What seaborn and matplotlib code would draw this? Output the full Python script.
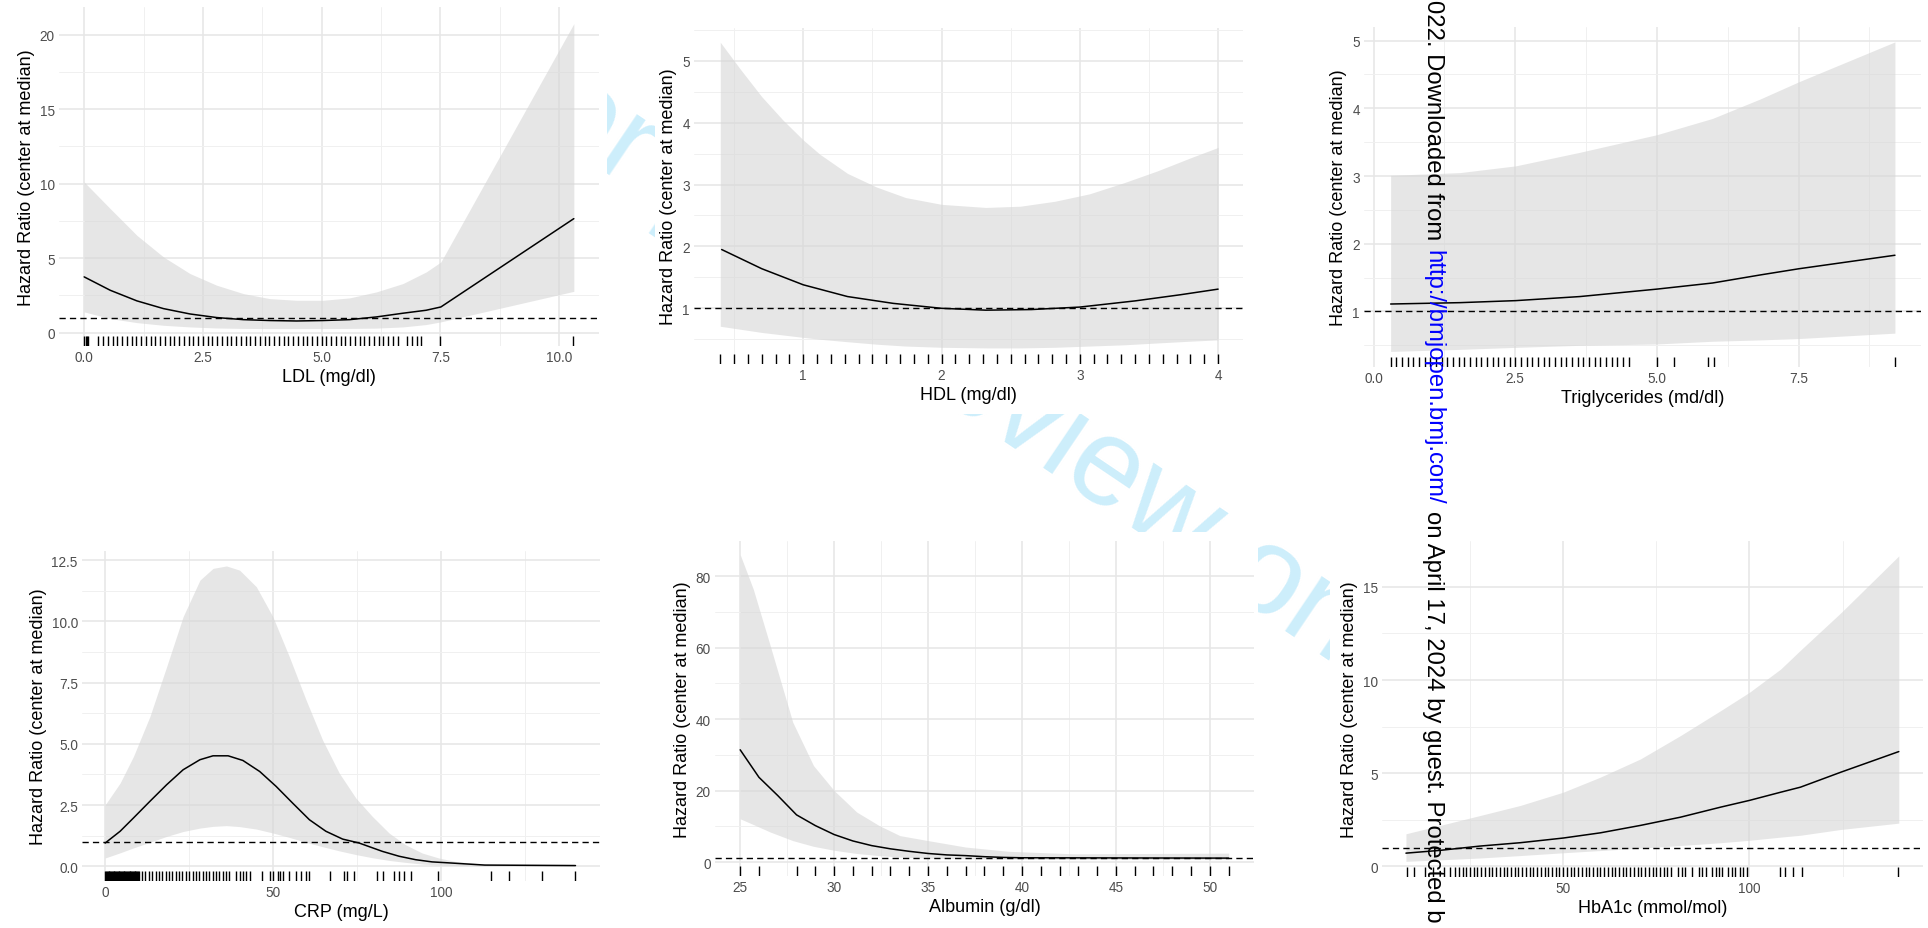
import numpy as np
import pandas as pd
import matplotlib.pyplot as plt
from matplotlib.patches import Rectangle
import seaborn as sns

W, H = 1928, 929

# ---------------------------------------------------------
# Values read off the picture: HR curve, 95% band, rug of observations
# ---------------------------------------------------------
ldl_x = [0.0, 0.55, 1.11, 1.67, 2.23, 2.79, 3.35, 3.91, 4.47, 5.03, 5.59,
         6.15, 6.71, 7.2, 7.51, 10.31]
ldl_hr = [3.74, 2.84, 2.13, 1.61, 1.25, 1.01, 0.87, 0.81, 0.78, 0.81, 0.87,
          1.05, 1.30, 1.50, 1.72, 7.65]
ldl_hi = [10.11, 8.32, 6.53, 5.08, 3.96, 3.18, 2.62, 2.28, 2.17, 2.17, 2.33,
          2.73, 3.29, 4.07, 4.74, 20.74]
ldl_lo = [1.39, 0.94, 0.67, 0.49, 0.38, 0.31, 0.28, 0.27, 0.27, 0.27, 0.28,
          0.30, 0.38, 0.54, 0.72, 2.77]
ldl_rug = [0.0, 0.03, 0.06, 0.09,
           0.3, 0.4, 0.5, 0.6, 0.7, 0.8, 0.9, 1.0, 1.1, 1.2, 1.3, 1.4, 1.5, 1.6,
           1.7, 1.8, 1.9, 2.0, 2.1, 2.2, 2.3, 2.4, 2.5, 2.6, 2.7, 2.8, 2.9, 3.0,
           3.1, 3.2, 3.3, 3.4, 3.5, 3.6, 3.7, 3.8, 3.9, 4.0, 4.1, 4.2, 4.3, 4.4,
           4.5, 4.6, 4.7, 4.8, 4.9, 5.0, 5.1, 5.2, 5.3, 5.4, 5.5, 5.6, 5.7, 5.8,
           5.9, 6.0, 6.1, 6.2, 6.3, 6.4, 6.5, 6.6,
           6.8, 6.9, 7.0, 7.1, 7.5, 10.3]

hdl_line_x = [0.41, 0.70, 1.0, 1.32, 1.65, 2.0, 2.32, 2.65, 3.0, 3.40, 3.73, 4.0]
hdl_hr = [1.95, 1.64, 1.38, 1.19, 1.08, 1.0, 0.97, 0.98, 1.02, 1.12, 1.22, 1.31]
hdl_band_x = [0.40, 0.55, 0.70, 0.85, 1.0, 1.12, 1.32, 1.53, 1.74, 2.0, 2.32,
              2.57, 2.82, 3.07, 3.32, 3.56, 3.81, 4.0]
hdl_hi = [5.30, 4.85, 4.42, 4.05, 3.72, 3.49, 3.18, 2.96, 2.79, 2.68, 2.63,
          2.65, 2.73, 2.85, 3.03, 3.22, 3.44, 3.60]
hdl_lo = [0.71, 0.66, 0.61, 0.57, 0.53, 0.50, 0.46, 0.42, 0.39, 0.37, 0.36,
          0.36, 0.37, 0.39, 0.41, 0.44, 0.47, 0.49]
hdl_rug = [0.4, 0.5, 0.6, 0.7, 0.8, 0.9, 1.0, 1.1, 1.2, 1.3, 1.4, 1.5, 1.6,
           1.7, 1.8, 1.9, 2.0, 2.1, 2.2, 2.3, 2.4, 2.5, 2.6, 2.7, 2.8, 2.9,
           3.0, 3.1, 3.2, 3.3, 3.4, 3.5, 3.6, 3.7, 3.8, 3.9, 4.0]

tg_x = [0.3, 1.52, 2.51, 3.64, 5.0, 5.98, 6.83, 7.5, 9.2]
tg_hr = [1.11, 1.13, 1.16, 1.22, 1.33, 1.42, 1.54, 1.63, 1.83]
tg_hi = [3.01, 3.05, 3.15, 3.35, 3.61, 3.85, 4.14, 4.39, 4.98]
tg_lo = [0.41, 0.44, 0.47, 0.50, 0.52, 0.56, 0.58, 0.60, 0.68]
tg_rug = [0.3, 0.4, 0.5, 0.6, 0.7, 0.8, 0.9, 1.0, 1.1, 1.2, 1.3, 1.4, 1.5,
          1.6, 1.7, 1.8, 1.9, 2.0, 2.1, 2.2, 2.3, 2.4, 2.5, 2.6, 2.7, 2.8,
          2.9, 3.0, 3.1, 3.2, 3.3, 3.4, 3.5, 3.6, 3.7, 3.8, 3.9, 4.0, 4.1,
          4.2, 4.3, 4.4, 4.5, 5.0, 5.3, 5.9, 6.0, 9.2]

crp_line_x = [0, 4.45, 8.4, 13.3, 18.3, 23.2, 28.2, 32.1, 36.6, 41.0, 46.0,
              50.9, 55.8, 60.8, 65.7, 70.7, 75.6, 82.5, 87.5, 92.4, 97.3,
              102.3, 113, 140]
crp_hr = [0.95, 1.43, 1.97, 2.65, 3.33, 3.94, 4.35, 4.51, 4.51, 4.32, 3.87,
          3.26, 2.58, 1.90, 1.43, 1.11, 0.95, 0.61, 0.41, 0.27, 0.18, 0.14,
          0.05, 0.03]
crp_band_x = [0, 4.45, 8.4, 13.3, 18.3, 23.2, 28.2, 32.1, 36.1, 40.0, 45.0,
              49.9, 54.8, 59.8, 64.7, 69.7, 74.6, 79.5, 84.5, 89.4, 94.4,
              99.3, 104.2, 113, 140]
crp_hi = [2.51, 3.40, 4.48, 6.11, 8.15, 10.19, 11.68, 12.16, 12.26, 12.09,
          11.41, 10.19, 8.56, 6.79, 5.16, 3.80, 2.79, 2.04, 1.36, 0.88, 0.54,
          0.34, 0.20, 0.08, 0.04]
crp_lo = [0.34, 0.55, 0.75, 0.98, 1.22, 1.42, 1.56, 1.63, 1.66, 1.62, 1.52,
          1.36, 1.18, 0.98, 0.80, 0.63, 0.48, 0.35, 0.24, 0.16, 0.09, 0.05,
          0.03, 0.02, 0.01]
crp_rug = [0, 0.25, 0.5, 0.75, 1, 1.25, 1.5, 1.75, 2, 2.25, 2.5, 2.75, 3,
           3.25, 3.5, 3.75, 4, 4.25, 4.5, 4.75, 5, 5.25, 5.5, 5.75, 6, 6.25,
           6.5, 6.75, 7, 7.25, 7.5, 7.75, 8, 8.25, 8.5, 8.75, 9, 9.25, 9.5,
           9.75, 10,
           11, 12, 13, 14, 15, 16, 17, 18, 19, 20, 21, 22, 23, 24, 25, 26, 27,
           28, 29, 30, 31, 32, 33, 34, 35, 36, 37,
           39, 40, 41, 42, 43,
           46.8, 49.0, 50.0, 51.3, 52.1, 52.9, 54.7, 56.7, 58.2, 59.8, 60.8,
           67.0, 71.0, 72.1, 74.1, 80.8, 82.8, 85.9, 87.4, 89.0, 91.0, 99.2,
           115.0, 120.2, 129.9, 139.9]

alb_line_x = [25, 26, 27, 28, 29, 30, 31, 32, 33, 34, 35, 36, 37, 38, 39, 40, 51]
alb_hr = [31.4, 23.7, 18.6, 13.2, 10.2, 7.7, 5.9, 4.6, 3.7, 3.0, 2.4, 2.0,
          1.8, 1.5, 1.3, 1.2, 1.1]
alb_band_x = [25, 25.7, 26.6, 27.8, 28.9, 30, 31.2, 32.4, 33.5, 35, 37, 39.3,
              42.8, 51]
alb_hi = [86.0, 76.3, 60.5, 39.1, 27.0, 20.0, 14.0, 10.2, 7.4, 6.0, 4.2, 3.0,
          2.3, 2.5]
alb_lo = [12.1, 10.5, 8.4, 6.0, 4.4, 3.3, 2.4, 1.8, 1.4, 1.1, 0.9, 0.8, 0.7, 0.7]
alb_rug = [25, 26, 28, 29, 30, 31, 32, 33, 34, 35, 36, 37, 38, 39, 40, 41, 42,
           43, 44, 45, 46, 47, 48, 49, 50, 51]

hb_x = [7.8, 17.0, 27.7, 38.5, 50, 60, 70.8, 81.5, 92.3, 100, 108.4, 113.7,
        124.5, 140.1]
hb_hr = [0.71, 0.86, 1.09, 1.27, 1.52, 1.80, 2.20, 2.64, 3.18, 3.54, 3.98,
         4.25, 5.05, 6.16]
hb_hi = [1.75, 2.20, 2.73, 3.27, 3.98, 4.79, 5.77, 7.02, 8.36, 9.34, 10.59,
         11.6, 13.6, 16.66]
hb_lo = [0.27, 0.35, 0.45, 0.58, 0.73, 0.85, 0.98, 1.12, 1.27, 1.40, 1.57,
         1.67, 1.98, 2.32]
hb_rug = [8, 10, 13, 15, 18, 19.5, 21,
          22, 23, 24, 25, 26, 27, 28, 29, 30, 31, 32, 33, 34, 35, 36, 37, 38,
          39, 40, 41, 42, 43, 44, 45, 46, 47, 48, 49, 50, 51, 52, 53, 54, 55,
          56, 57, 58, 59, 60, 61, 62, 63, 64, 65, 66, 67, 68, 69, 70, 71, 72,
          73, 74, 75, 76, 77, 78, 79,
          80.9, 81.9, 82.8, 84.6, 86.4, 87.3, 88.3, 89.9, 90.9, 91.8, 92.7,
          94.3, 95.2, 96.1, 97.5, 98.4, 99.4, 108.1, 109.5, 111.8, 114.1, 140]

ylab = 'Hazard Ratio (center at median)'

# ---------------------------------------------------------
# Style
# ---------------------------------------------------------
sns.set_theme(style="white")
plt.rcParams['font.family'] = ['Liberation Sans', 'DejaVu Sans']

fig = plt.figure(figsize=(W / 100, H / 100), dpi=100)


def box(left, top, right, bottom):
    return [left / W, 1 - bottom / H, (right - left) / W, (bottom - top) / H]


def panel(rect, line_x, hr, band_x, lo, hi, rug, xlim, ylim,
          xticks, xlabels, xminor, yticks, ylabels, yminor, xlabel):
    ax = fig.add_axes(box(*rect))
    ax.set_facecolor('white')
    ax.set_axisbelow(True)
    ax.fill_between(band_x, lo, hi, color='#d6d6d6', alpha=0.6, lw=0, zorder=1)
    ax.axhline(1, color='black', lw=1.0, ls=(0, (4.5, 3)), zorder=2)
    sns.lineplot(x=line_x, y=hr, ax=ax, color='black', linewidth=1.1,
                 estimator=None, sort=False, zorder=3)
    sns.rugplot(x=rug, ax=ax, height=0.03, color='black', linewidth=1.0,
                expand_margins=False)
    ax.set_xlim(*xlim)
    ax.set_ylim(*ylim)
    ax.set_xticks(xticks)
    ax.set_xticklabels(xlabels)
    ax.set_xticks(xminor, minor=True)
    ax.set_yticks(yticks)
    ax.set_yticklabels(ylabels)
    ax.set_yticks(yminor, minor=True)
    ax.grid(which='major', color='#E6E6E6', lw=1.1)
    ax.grid(which='minor', color='#F0F0F0', lw=0.7)
    ax.tick_params(which='both', length=0, pad=3, labelsize=9.8,
                   labelcolor='#4D4D4D')
    for s in ax.spines.values():
        s.set_visible(False)
    ax.set_xlabel(xlabel, fontsize=13, labelpad=3, color='black')
    ax.set_ylabel(ylab, fontsize=13, labelpad=3.5, color='black')
    return ax


panel((59, 8, 599, 347), ldl_x, ldl_hr, ldl_x, ldl_lo, ldl_hi, ldl_rug,
      (-0.53, 10.84), (-0.9, 21.86),
      [0, 2.5, 5, 7.5, 10], ['0.0', '2.5', '5.0', '7.5', '10.0'],
      [1.25, 3.75, 6.25, 8.75],
      [0, 5, 10, 15, 20], ['0', '5', '10', '15', '20'],
      [2.5, 7.5, 12.5, 17.5], 'LDL (mg/dl)')

panel((694, 29, 1243, 365), hdl_line_x, hdl_hr, hdl_band_x, hdl_lo, hdl_hi,
      hdl_rug, (0.21, 4.18), (0.10, 5.53),
      [1, 2, 3, 4], ['1', '2', '3', '4'], [0.5, 1.5, 2.5, 3.5],
      [1, 2, 3, 4, 5], ['1', '2', '3', '4', '5'],
      [0.5, 1.5, 2.5, 3.5, 4.5, 5.5], 'HDL (mg/dl)')

panel((1364, 28, 1921, 368), tg_x, tg_hr, tg_x, tg_lo, tg_hi, tg_rug,
      (-0.17, 9.66), (0.18, 5.2),
      [0, 2.5, 5, 7.5], ['0.0', '2.5', '5.0', '7.5'], [1.25, 3.75, 6.25, 8.75],
      [1, 2, 3, 4, 5], ['1', '2', '3', '4', '5'],
      [0.5, 1.5, 2.5, 3.5, 4.5], 'Triglycerides (md/dl)')

panel((82, 552, 600, 882), crp_line_x, crp_hr, crp_band_x, crp_lo, crp_hi,
      crp_rug, (-6.9, 147.3), (-0.6, 12.87),
      [0, 50, 100], ['0', '50', '100'], [25, 75, 125],
      [0, 2.5, 5, 7.5, 10, 12.5], ['0.0', '2.5', '5.0', '7.5', '10.0', '12.5'],
      [1.25, 3.75, 6.25, 8.75, 11.25], 'CRP (mg/L)')

panel((715, 542, 1254, 877), alb_line_x, alb_hr, alb_band_x, alb_lo, alb_hi,
      alb_rug, (23.66, 52.35), (-3.9, 89.8),
      [25, 30, 35, 40, 45, 50], ['25', '30', '35', '40', '45', '50'],
      [27.5, 32.5, 37.5, 42.5, 47.5],
      [0, 20, 40, 60, 80], ['0', '20', '40', '60', '80'],
      [10, 30, 50, 70], 'Albumin (g/dl)')

panel((1382, 542, 1923, 878), hb_x, hb_hr, hb_x, hb_lo, hb_hi, hb_rug,
      (1.37, 146.6), (-0.57, 17.46),
      [50, 100], ['50', '100'], [25, 75, 125],
      [0, 5, 10, 15], ['0', '5', '10', '15'],
      [2.5, 7.5, 12.5], 'HbA1c (mmol/mol)')

# ---------------------------------------------------------
# Page furniture: review watermark behind the pasted plots,
# download stamp on top
# ---------------------------------------------------------
fig.text(959 / W, 1 - 372 / H, 'For peer review only', rotation=-34,
         rotation_mode='anchor', ha='center', va='center', fontsize=90,
         color='#cdeefb', zorder=-3)

for l, t, r, b in [(0, 0, 607, 412), (655, 0, 1290, 415), (1300, 0, W, 420),
                   (0, 470, 640, H), (650, 533, 1258, H), (1330, 480, W, H)]:
    fig.add_artist(Rectangle((l / W, 1 - b / H), (r - l) / W, (b - t) / H,
                             transform=fig.transFigure, facecolor='white',
                             edgecolor='none', zorder=-2))

sx = 1433 / W
fig.text(sx, 1.0, '022. Downloaded from', rotation=-90, ha='center',
         va='top', fontsize=17.2, color='black', zorder=5)
fig.text(sx, 1 - 250 / H, 'http://bmjopen.bmj.com/', rotation=-90,
         ha='center', va='top', fontsize=17.2, color='#0000FF', zorder=5)
fig.text(sx, 1 - 511 / H, 'on April 17, 2024 by guest. Protected b',
         rotation=-90, ha='center', va='top', fontsize=17.2, color='black',
         zorder=5)

fig.savefig('out.png', dpi=100)
